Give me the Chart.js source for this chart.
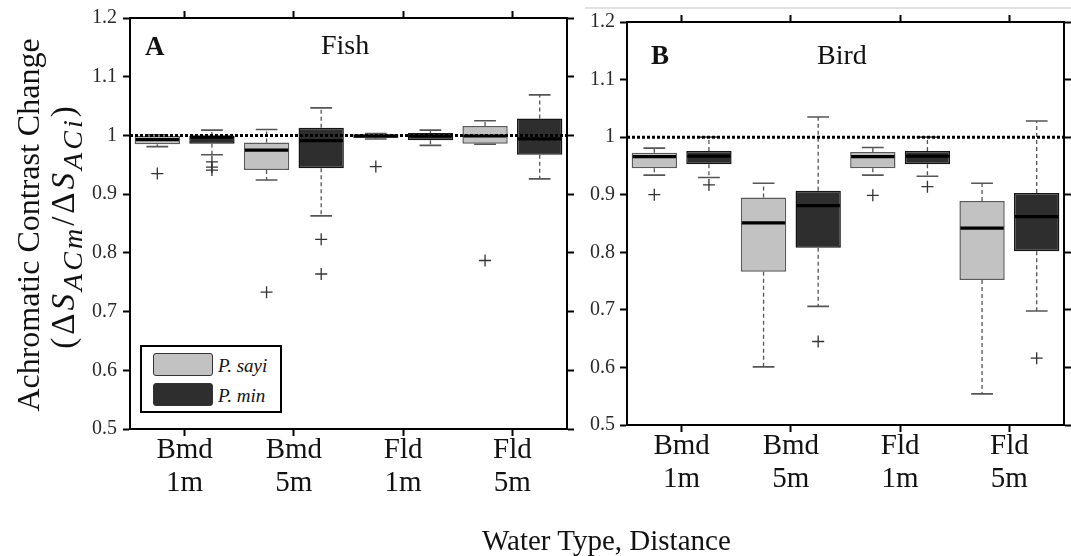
<!DOCTYPE html>
<html>
<head>
<meta charset="utf-8">
<script src="https://cdn.jsdelivr.net/npm/chart.js@4.4.1/dist/chart.umd.min.js"></script>
<style>
  body { margin: 0; background: #fff; width: 1071px; height: 556px; position: relative; overflow: hidden; font-family: "Liberation Serif", serif; color: #111; }
  canvas { position: absolute; top: 0; }
  #chartA { left: 0; }
  #chartB { left: 580px; }
  .rot { position: absolute; transform: translate(-50%, -50%) rotate(-90deg); white-space: nowrap; line-height: 1; }
  .txt { position: absolute; white-space: nowrap; line-height: 1; }
  .legend { position: absolute; left: 140px; top: 345px; width: 138px; height: 64px; border: 2px solid #000; background: #fff; }
  .sw { position: absolute; left: 11px; width: 58px; height: 21px; border: 1.5px solid #333; border-radius: 3px; }
  .lt { position: absolute; left: 76px; font-style: italic; font-size: 19px; line-height: 1; }
  .topline { position: absolute; left: 585px; top: 7px; width: 486px; height: 2px; background: #e2e2e2; }
</style>
</head>
<body>
<div class="topline"></div>
<canvas id="chartA" width="580" height="556"></canvas>
<canvas id="chartB" width="491" height="556"></canvas>

<div class="rot" style="left:28px; top:225px; font-size:32px;">Achromatic Contrast Change</div>
<div class="rot" style="left:67px; top:226px; font-size:33px; letter-spacing:3px;">(Δ<i>S</i><sub style="font-size:0.85em"><i>ACm</i></sub>/Δ<i>S</i><sub style="font-size:0.85em"><i>ACi</i></sub>)</div>

<div class="txt" style="left:145px; top:33px; font-size:27px; font-weight:bold;">A</div>
<div class="txt" style="left:321px; top:31px; font-size:28px;">Fish</div>
<div class="txt" style="left:651px; top:42px; font-size:27px; font-weight:bold;">B</div>
<div class="txt" style="left:817px; top:41px; font-size:28px;">Bird</div>
<div class="txt" style="left:482px; top:526px; font-size:29px;">Water Type, Distance</div>

<div class="legend" id="legend"></div>

<script>
const categories = [['Bmd', '1m'], ['Bmd', '5m'], ['Fld', '1m'], ['Fld', '5m']];
const yTickLabels = ['0.5', '0.6', '0.7', '0.8', '0.9', '1', '1.1', '1.2'];
const species = ['P. sayi', 'P. min'];

// [lower whisker, q1, median, q3, upper whisker] per category
const fishSayi = [
    [0.981, 0.985, 0.993, 0.999, 1.001],
    [0.924, 0.941, 0.975, 0.988, 1.010],
    [0.994, 0.995, 0.999, 1.002, 1.003],
    [0.985, 0.986, 0.999, 1.016, 1.025]
];
const fishSayiOut = [[0.935], [0.733], [0.947], [0.787]];

const fishMin = [
    [0.967, 0.986, 0.997, 0.999, 1.009],
    [0.863, 0.944, 0.991, 1.013, 1.047],
    [0.983, 0.992, 0.999, 1.004, 1.009],
    [0.926, 0.967, 0.994, 1.029, 1.069]
];
const fishMinOut = [[0.955, 0.946, 0.941], [0.823, 0.764], [], []];

const birdSayi = [
    [0.934, 0.946, 0.966, 0.973, 0.981],
    [0.601, 0.766, 0.851, 0.895, 0.920],
    [0.934, 0.946, 0.966, 0.974, 0.982],
    [0.554, 0.752, 0.842, 0.889, 0.920]
];
const birdSayiOut = [[0.900], [], [0.899], []];

const birdMin = [
    [0.930, 0.953, 0.967, 0.976, 1.000],
    [0.706, 0.808, 0.881, 0.907, 1.035],
    [0.932, 0.953, 0.967, 0.976, 1.000],
    [0.698, 0.802, 0.862, 0.903, 1.028]
];
const birdMinOut = [[0.917], [0.645], [0.914], [0.616]];

const refLine = 1;

const FONT = 'Liberation Serif';
const fills = ['#c2c2c2', '#2e2e2e'];
const borders = ['#5a5a5a', '#151515'];

// whiskers, medians, outliers and the dotted reference line
const boxPlugin = {
    id: 'boxes',
    afterDatasetsDraw(chart) {
        const ctx = chart.ctx;
        const y = chart.scales.y;
        const area = chart.chartArea;
        ctx.save();
        chart.data.datasets.forEach(function(ds, d) {
            const meta = chart.getDatasetMeta(d);
            meta.data.forEach(function(bar, j) {
                const s = ds.stats[j];
                const x = bar.x;
                const w = bar.width;
                const cap = w * 0.48;
                ctx.strokeStyle = '#555';
                ctx.lineWidth = 1.3;
                ctx.setLineDash([4, 3]);
                ctx.beginPath();
                ctx.moveTo(x, y.getPixelForValue(s[3]));
                ctx.lineTo(x, y.getPixelForValue(s[4]));
                ctx.moveTo(x, y.getPixelForValue(s[1]));
                ctx.lineTo(x, y.getPixelForValue(s[0]));
                ctx.stroke();
                ctx.setLineDash([]);
                ctx.lineWidth = 1.6;
                ctx.beginPath();
                ctx.moveTo(x - cap / 2, y.getPixelForValue(s[4]));
                ctx.lineTo(x + cap / 2, y.getPixelForValue(s[4]));
                ctx.moveTo(x - cap / 2, y.getPixelForValue(s[0]));
                ctx.lineTo(x + cap / 2, y.getPixelForValue(s[0]));
                ctx.stroke();
                // median
                ctx.strokeStyle = '#000';
                ctx.lineWidth = 3.2;
                ctx.beginPath();
                ctx.moveTo(x - w / 2 + 1, y.getPixelForValue(s[2]));
                ctx.lineTo(x + w / 2 - 1, y.getPixelForValue(s[2]));
                ctx.stroke();
                // outliers
                ctx.strokeStyle = '#333';
                ctx.lineWidth = 1.3;
                ds.outliers[j].forEach(function(v) {
                    const py = y.getPixelForValue(v);
                    ctx.beginPath();
                    ctx.moveTo(x - 6, py);
                    ctx.lineTo(x + 6, py);
                    ctx.moveTo(x, py - 6);
                    ctx.lineTo(x, py + 6);
                    ctx.stroke();
                });
            });
        });
        const ry = y.getPixelForValue(refLine);
        ctx.strokeStyle = '#000';
        ctx.lineWidth = 3;
        ctx.setLineDash([3, 2]);
        ctx.beginPath();
        ctx.moveTo(area.left, ry);
        ctx.lineTo(area.right, ry);
        ctx.stroke();
        ctx.restore();
    }
};

function tickGrid() {
    return {
        offset: false,
        drawOnChartArea: false,
        drawTicks: true,
        tickLength: 7,
        tickWidth: 2,
        tickColor: '#000'
    };
}

function makeChart(id, sayi, sayiOut, min, minOut, sizes) {
    const ctx = document.getElementById(id).getContext('2d');
    return new Chart(ctx, {
        type: 'bar',
        data: {
            labels: categories,
            datasets: [
                {
                    label: species[0],
                    data: sayi.map(s => [s[1], s[3]]),
                    stats: sayi,
                    outliers: sayiOut,
                    backgroundColor: fills[0],
                    borderColor: borders[0],
                    borderWidth: 1.5,
                    borderSkipped: false
                },
                {
                    label: species[1],
                    data: min.map(s => [s[1], s[3]]),
                    stats: min,
                    outliers: minOut,
                    backgroundColor: fills[1],
                    borderColor: borders[1],
                    borderWidth: 1.5,
                    borderSkipped: false
                }
            ]
        },
        options: {
            responsive: false,
            animation: false,
            categoryPercentage: 1.0,
            barPercentage: 0.83,
            layout: { padding: 0 },
            plugins: {
                legend: { display: false },
                tooltip: { enabled: false }
            },
            scales: {
                x: {
                    offset: true,
                    grid: tickGrid(),
                    border: { color: '#000', width: 2 },
                    ticks: {
                        font: { family: FONT, size: 29, lineHeight: 1.14 },
                        color: '#111',
                        padding: -2,
                        maxRotation: 0,
                        autoSkip: false
                    },
                    afterFit: function(s) { s.height = sizes.bottom; }
                },
                x2: {
                    type: 'category',
                    position: 'top',
                    offset: true,
                    grid: tickGrid(),
                    border: { color: '#000', width: 2 },
                    ticks: { display: false },
                    afterFit: function(s) { s.height = sizes.top; }
                },
                y: {
                    min: 0.5,
                    max: 1.2,
                    grid: tickGrid(),
                    border: { color: '#000', width: 2 },
                    ticks: {
                        stepSize: 0.1,
                        font: { family: FONT, size: 20 },
                        color: '#2a2a2a',
                        padding: sizes.ypad,
                        callback: function(v, i) { return yTickLabels[i]; }
                    },
                    afterFit: function(s) { s.width = sizes.left; }
                },
                y2: {
                    position: 'right',
                    min: 0.5,
                    max: 1.2,
                    grid: tickGrid(),
                    border: { color: '#000', width: 2 },
                    ticks: { display: false, stepSize: 0.1 },
                    afterFit: function(s) { s.width = sizes.right; }
                }
            }
        },
        plugins: [boxPlugin]
    });
}

makeChart('chartA', fishSayi, fishSayiOut, fishMin, fishMinOut,
    { left: 130, right: 13, top: 17, bottom: 127, ypad: 6 });
makeChart('chartB', birdSayi, birdSayiOut, birdMin, birdMinOut,
    { left: 47, right: 7, top: 22, bottom: 131, ypad: 5 });

const legend = document.getElementById('legend');
species.forEach(function(name, i) {
    const sw = document.createElement('div');
    sw.className = 'sw';
    sw.style.top = (6 + i * 30) + 'px';
    sw.style.background = fills[i];
    legend.appendChild(sw);
    const t = document.createElement('div');
    t.className = 'lt';
    t.style.top = (9 + i * 30) + 'px';
    t.textContent = name;
    legend.appendChild(t);
});
</script>
</body>
</html>
